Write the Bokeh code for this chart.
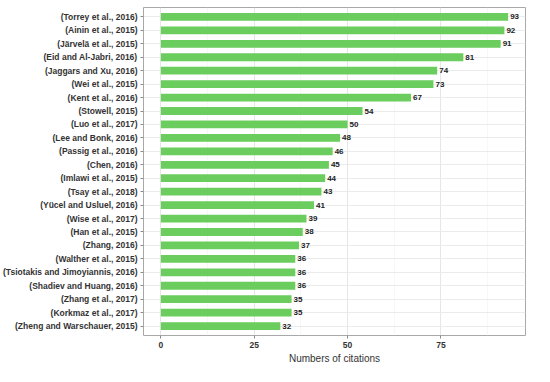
from bokeh.plotting import figure
from bokeh.models import FactorRange, FixedTicker, ColumnDataSource, Range1d
from bokeh.core.properties import value
from bokeh.embed import file_html
from bokeh.resources import INLINE

studies = [
    "(Torrey et al., 2016)",
    "(Ainin et al., 2015)",
    "(Järvelä et al., 2015)",
    "(Eid and Al-Jabri, 2016)",
    "(Jaggars and Xu, 2016)",
    "(Wei et al., 2015)",
    "(Kent et al., 2016)",
    "(Stowell, 2015)",
    "(Luo et al., 2017)",
    "(Lee and Bonk, 2016)",
    "(Passig et al., 2016)",
    "(Chen, 2016)",
    "(Imlawi et al., 2015)",
    "(Tsay et al., 2018)",
    "(Yücel and Usluel, 2016)",
    "(Wise et al., 2017)",
    "(Han et al., 2015)",
    "(Zhang, 2016)",
    "(Walther et al., 2015)",
    "(Tsiotakis and Jimoyiannis, 2016)",
    "(Shadiev and Huang, 2016)",
    "(Zhang et al., 2017)",
    "(Korkmaz et al., 2017)",
    "(Zheng and Warschauer, 2015)",
]
citations = [93, 92, 91, 81, 74, 73, 67, 54, 50, 48, 46, 45, 44, 43, 41, 39, 38, 37, 36, 36, 36, 35, 35, 32]
x_ticks = [0, 25, 50, 75]
x_minor = [12.5, 37.5, 62.5, 87.5]

FONT = "Liberation Sans"
GREEN = "#6ACD5E"

src = ColumnDataSource(dict(study=studies, n=citations, lab=[str(c) for c in citations]))

p = figure(
    width=534, height=366,
    y_range=FactorRange(factors=studies[::-1], range_padding=0.2, range_padding_units="absolute"),
    x_range=Range1d(-4.65, 97.65),
    output_backend="svg", toolbar_location=None,
    min_border_top=7, min_border_right=9, min_border_left=141, min_border_bottom=27,
)
p.background_fill_color = "white"
p.border_fill_color = "white"
p.outline_line_color = "#A8A8A8"
p.outline_line_width = 1

p.hbar(y="study", left=0, right="n", height=0.58, source=src,
       fill_color=GREEN, line_color=None)
p.text(x="n", y="study", text="lab", source=src, x_offset=2,
       text_baseline="middle", text_align="left",
       text_font=value(FONT), text_font_size="8px", text_font_style="bold",
       text_color="#222222")

p.xaxis.ticker = FixedTicker(ticks=x_ticks, minor_ticks=x_minor)
p.xaxis.axis_label = "Numbers of citations"
p.xaxis.axis_label_text_font = FONT
p.xaxis.axis_label_text_font_size = "10px"
p.xaxis.axis_label_text_font_style = "normal"
p.xaxis.axis_label_text_color = "#333333"
p.xaxis.axis_label_standoff = 2

for ax in (p.xaxis[0], p.yaxis[0]):
    ax.axis_line_color = None
    ax.major_tick_in = 0
    ax.major_tick_out = 3
    ax.major_tick_line_color = "#8A8A8A"
    ax.minor_tick_line_color = None
    ax.major_label_text_font = FONT
    ax.major_label_text_font_size = "8.5px"
    ax.major_label_text_font_style = "bold"
    ax.major_label_text_color = "#333333"
    ax.major_label_standoff = 2

p.xaxis.major_label_standoff = 2
p.yaxis.major_label_standoff = 3

p.xgrid.ticker = FixedTicker(ticks=x_ticks, minor_ticks=x_minor)
p.xgrid.grid_line_color = "#E6E6E6"
p.xgrid.grid_line_width = 1
p.xgrid.minor_grid_line_color = "#F2F2F2"
p.xgrid.minor_grid_line_width = 0.6
p.ygrid.grid_line_color = "#EBEBEB"
p.ygrid.grid_line_width = 1

open("out.html", "w").write(file_html(p, INLINE))
